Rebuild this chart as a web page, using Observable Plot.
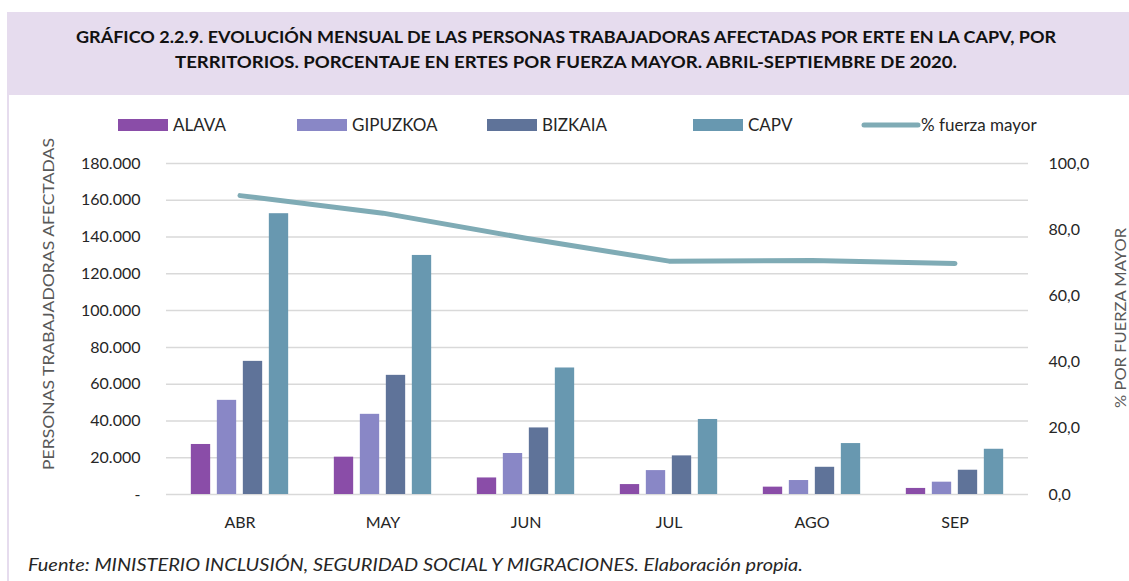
<!DOCTYPE html>
<html>
<head>
<meta charset="utf-8">
<script src="https://cdn.jsdelivr.net/npm/d3@7"></script>
<script src="https://cdn.jsdelivr.net/npm/@observablehq/plot@0.6"></script>
<style>
  html, body { margin: 0; padding: 0; background: #fff; }
  #root { position: relative; width: 1129px; height: 581px; overflow: hidden; font-family: Lato, "Open Sans", sans-serif; }
  #chart { position: absolute; left: 0; top: 140px; }
  #overlay { position: absolute; left: 0; top: 0; }
</style>
</head>
<body>
<div id="root">
  <div id="chart"></div>
  <svg id="overlay" width="1129" height="581"></svg>
</div>
<script>
// ---- data ----
const months = ["ABR", "MAY", "JUN", "JUL", "AGO", "SEP"];
const alava = [27200, 20300, 9000, 5400, 4000, 3300];
const gipuzkoa = [51200, 43600, 22300, 13000, 7600, 6700];
const bizkaia = [72400, 64800, 36200, 21000, 14800, 13200];
const capv = [152700, 130000, 68800, 40800, 27700, 24600];
const fuerzaMayor = [90.3, 85.0, 77.4, 70.5, 70.7, 69.8];
const seriesNames = ["ALAVA", "GIPUZKOA", "BIZKAIA", "CAPV"];
const seriesColors = ["#8a4da8", "#8987c6", "#5f7399", "#6898b0"];
const lineName = "% fuerza mayor";
const lineColor = "#7fabb5";
const leftTicks = [0, 20000, 40000, 60000, 80000, 100000, 120000, 140000, 160000, 180000];
const rightTicks = [0, 20, 40, 60, 80, 100];
const leftMax = 180000, rightMax = 100;
const titleLines = [
  "GRÁFICO 2.2.9. EVOLUCIÓN MENSUAL DE LAS PERSONAS TRABAJADORAS AFECTADAS POR ERTE EN LA CAPV, POR",
  "TERRITORIOS. PORCENTAJE EN ERTES POR FUERZA MAYOR. ABRIL-SEPTIEMBRE DE 2020."
];
const yLabelLeft = "PERSONAS TRABAJADORAS AFECTADAS";
const yLabelRight = "% POR FUERZA MAYOR";
const caption = "Fuente: MINISTERIO INCLUSIÓN, SEGURIDAD SOCIAL Y MIGRACIONES. Elaboración propia.";

// ---- table ----
const rows = months.map((m, i) => ({
  month: m,
  ALAVA: alava[i], GIPUZKOA: gipuzkoa[i], BIZKAIA: bizkaia[i], CAPV: capv[i],
  pct: fuerzaMayor[i]
}));
const toLeft = p => p * leftMax / rightMax;

const barW = 20, step = 26;
const offsets = [-1.5, -0.5, 0.5, 1.5].map(k => k * step);
const bandW = (1129 - 166 - 101) / months.length;
const fmtThousands = d => d === 0 ? "-" : d3.format(",")(d).replace(/,/g, ".");
const FONT = "Lato, 'Open Sans', sans-serif";

const plot = Plot.plot({
  width: 1129,
  height: 400,
  marginLeft: 166,
  marginRight: 101,
  marginTop: 23,
  marginBottom: 46,
  style: { fontFamily: FONT, fontSize: "16px", color: "#262626", background: "transparent" },
  x: { type: "band", domain: months, padding: 0 },
  y: { domain: [0, leftMax] },
  marks: [
    Plot.ruleY(leftTicks, { stroke: "#d9d9d9", strokeWidth: 1.5 }),
    ...seriesNames.map((s, k) => Plot.barY(rows, {
      x: "month", y: s, fill: seriesColors[k],
      dx: offsets[k],
      insetLeft: bandW / 2 - barW / 2,
      insetRight: bandW / 2 - barW / 2
    })),
    Plot.line(rows, {
      x: "month", y: d => toLeft(d.pct),
      stroke: lineColor, strokeWidth: 5, strokeLinecap: "round", strokeLinejoin: "round"
    }),
    Plot.axisY(leftTicks, { anchor: "left", tickSize: 0, tickPadding: 26, tickFormat: fmtThousands, label: null, fontSize: 16 }),
    Plot.axisY(rightTicks.map(toLeft), { anchor: "right", tickSize: 0, tickPadding: 20, tickFormat: d => (d * rightMax / leftMax).toFixed(1).replace(".", ","), label: null, fontSize: 16 }),
    Plot.axisX({ tickSize: 0, tickPadding: 22, label: null, fontSize: 16 })
  ]
});
document.getElementById("chart").appendChild(plot);

// ---- overlay: title, legend, axis titles, caption ----
const svg = d3.select("#overlay");
svg.append("rect").attr("x", 7).attr("y", 95).attr("width", 2).attr("height", 486).attr("fill", "#e6dcee");
svg.append("rect").attr("x", 7).attr("y", 12).attr("width", 1122).attr("height", 83).attr("fill", "#e6dcee");
const titleLen = [980, 782];
const titleY = [43, 68];
titleLines.forEach((t, i) => {
  svg.append("text").text(t)
    .attr("x", 566).attr("y", titleY[i])
    .attr("text-anchor", "middle")
    .attr("font-family", FONT)
    .attr("font-weight", "bold").attr("font-size", 17)
    .attr("fill", "#111")
    .attr("textLength", titleLen[i]).attr("lengthAdjust", "spacingAndGlyphs");
});

// legend
const swatchX = [118, 297, 487, 693];
seriesNames.forEach((s, k) => {
  svg.append("rect").attr("x", swatchX[k]).attr("y", 119).attr("width", 50).attr("height", 12).attr("fill", seriesColors[k]);
  svg.append("text").text(s).attr("x", swatchX[k] + 55).attr("y", 131)
    .attr("font-family", FONT).attr("font-size", 17).attr("fill", "#262626");
});
svg.append("line").attr("x1", 864).attr("x2", 918).attr("y1", 125).attr("y2", 125)
  .attr("stroke", lineColor).attr("stroke-width", 5).attr("stroke-linecap", "round");
svg.append("text").text(lineName).attr("x", 921).attr("y", 131)
  .attr("font-family", FONT).attr("font-size", 17).attr("fill", "#262626");

// axis titles
svg.append("text").text(yLabelLeft)
  .attr("transform", "translate(54,304) rotate(-90)")
  .attr("text-anchor", "middle")
  .attr("font-family", FONT).attr("font-size", 16).attr("fill", "#595959")
  .attr("textLength", 332).attr("lengthAdjust", "spacingAndGlyphs");
svg.append("text").text(yLabelRight)
  .attr("transform", "translate(1126,318) rotate(-90)")
  .attr("text-anchor", "middle")
  .attr("font-family", FONT).attr("font-size", 16).attr("fill", "#595959")
  .attr("textLength", 180).attr("lengthAdjust", "spacingAndGlyphs");

// caption
svg.append("text").text(caption)
  .attr("x", 28).attr("y", 571)
  .attr("font-family", FONT).attr("font-style", "italic").attr("font-size", 17).attr("fill", "#262626")
  .attr("textLength", 775).attr("lengthAdjust", "spacingAndGlyphs");
</script>
</body>
</html>
